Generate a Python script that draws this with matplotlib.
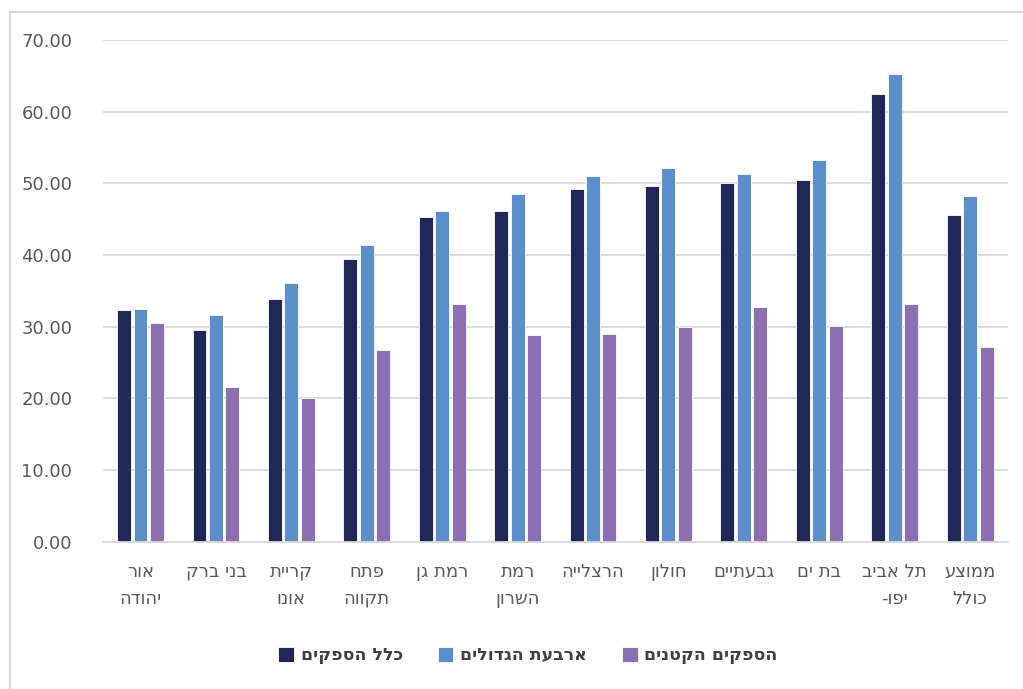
import numpy as np
import matplotlib
matplotlib.use("Agg")
import matplotlib.pyplot as plt
from matplotlib.lines import Line2D

# data
cities = ["אור\nיהודה", "בני ברק", "קריית\nאונו", "פתח\nתקווה", "רמת גן",
          "רמת\nהשרון", "הרצלייה", "חולון", "גבעתיים", "בת ים",
          "תל אביב\nיפו-", "ממוצע\nכולל"]
all_suppliers = [32.3, 29.5, 33.9, 39.5, 45.3, 46.1, 49.2, 49.6, 50.0, 50.4, 62.5, 45.6]
big_four = [32.5, 31.6, 36.1, 41.4, 46.1, 48.5, 51.0, 52.2, 51.3, 53.2, 65.3, 48.3]
small_suppliers = [30.5, 21.6, 20.0, 26.7, 33.1, 28.8, 29.0, 29.9, 32.7, 30.1, 33.1, 27.1]
series_names = ["כלל הספקים", "ארבעת הגדולים", "הספקים הקטנים"]
yticks = np.arange(0, 80, 10)

colors = ["#1F2858", "#5B8FCB", "#8B6FB0"]
grid_color = "#D9D9D9"
text_color = "#595959"
plt.rcParams["font.family"] = ["DejaVu Sans", "Liberation Sans"]


def rtl(s):
    # matplotlib has no bidi support: flip each line to visual order
    return "\n".join(line[::-1] for line in s.split("\n"))


fig = plt.figure(figsize=(10.23, 6.89), dpi=100)
ax = fig.add_axes([102.8 / 1023, 147.3 / 689, 905 / 1023, 501.7 / 689])

x = np.arange(len(cities))
step = 0.218
width = 0.185
for i, (vals, col, name) in enumerate(zip([all_suppliers, big_four, small_suppliers],
                                          colors, series_names)):
    ax.bar(x + (i - 1) * step, vals, width=width, color=col, edgecolor="white",
           linewidth=0.6, label=rtl(name), zorder=3)

ax.set_xlim(-0.5, len(cities) - 0.5)
ax.set_ylim(0, 70)
ax.set_yticks(yticks)
ax.set_yticklabels(["%.2f" % v for v in yticks])
ax.yaxis.grid(True, color=grid_color, linewidth=1.3, zorder=0)
ax.set_axisbelow(True)
for side in ["top", "right", "left"]:
    ax.spines[side].set_visible(False)
ax.spines["bottom"].set_color(grid_color)
ax.spines["bottom"].set_linewidth(1.3)
ax.spines["bottom"].set_zorder(4)

ax.set_xticks(x)
ax.set_xticklabels([rtl(c) for c in cities], fontsize=13, color=text_color,
                   linespacing=1.65, va="top")
ax.tick_params(axis="x", length=0, pad=15)
ax.tick_params(axis="y", length=0, pad=22, labelsize=13, labelcolor=text_color)

leg = fig.legend(loc="center", bbox_to_anchor=(528 / 1023, 1 - 655 / 689), ncol=3,
                 frameon=False, handlelength=0.9, handleheight=0.95,
                 handletextpad=0.4, columnspacing=2.0,
                 prop={"weight": "bold", "size": 12.5})
for t in leg.get_texts():
    t.set_color("#404040")

# outer chart frame (left and top edges visible in the crop)
fig.add_artist(Line2D([9.5 / 1023, 9.5 / 1023], [0, 1 - 12 / 689], transform=fig.transFigure,
                      color=grid_color, linewidth=1.6))
fig.add_artist(Line2D([9.5 / 1023, 1], [1 - 12 / 689, 1 - 12 / 689], transform=fig.transFigure,
                      color=grid_color, linewidth=1.6))

fig.savefig("out.png", dpi=100)
